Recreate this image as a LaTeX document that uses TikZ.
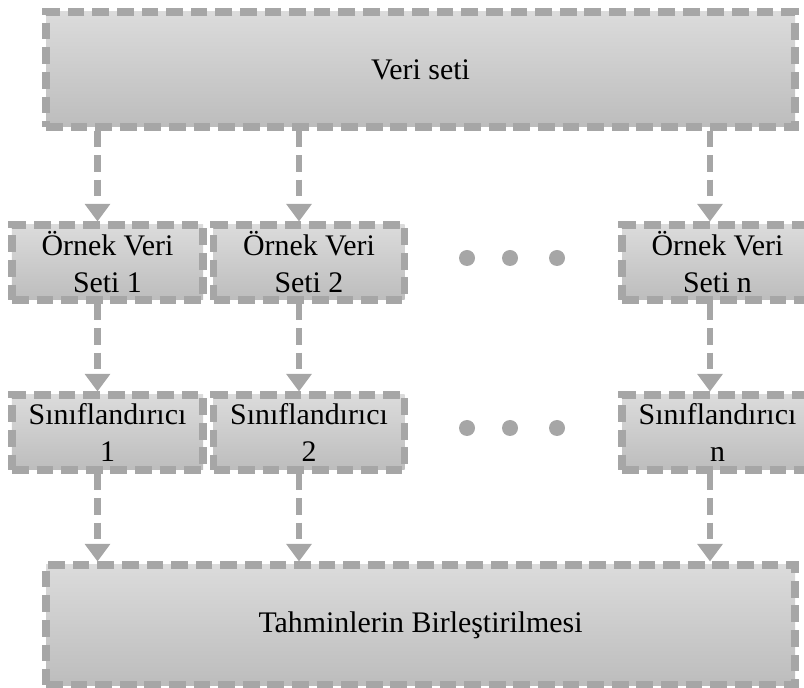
\documentclass[tikz,border=0pt]{standalone}
\usepackage{fontspec}
\setmainfont{Liberation Serif}
\usepackage{tikz}
\usetikzlibrary{arrows.meta,positioning}

\definecolor{lgray}{HTML}{A6A6A6}

\begin{document}
\begin{tikzpicture}[
  font=\fontsize{17}{21}\selectfont,
  blk/.style={draw=lgray, line width=4pt, dash pattern=on 9.5pt off 4.5pt,
    top color=black!14, bottom color=black!26, align=center, inner sep=0pt,
    minimum width=3.82cm, minimum height=1.5cm},
  wide/.style={blk, minimum width=14.98cm, minimum height=2.3cm},
  arr/.style={-{Triangle[width=14pt,length=10pt]}, draw=lgray, line width=3.8pt,
    dash pattern=on 9.5pt off 4.5pt},
  dot/.style={circle, fill=lgray, inner sep=0pt, minimum size=0.32cm}
]
\useasboundingbox (0,0) rectangle (16.08,13.74);

\node[wide] (v) at (8.41,12.35) {Veri seti};

\node[blk] (o1) at (2.15,8.49) {Örnek Veri\\Seti 1};
\node[blk] (o2) at (6.18,8.49) {Örnek Veri\\Seti 2};
\node[blk] (on) at (14.35,8.49) {Örnek Veri\\Seti n};
\draw[arr] ([xshift=-2mm]o1.north |- v.south) -- ([xshift=-2mm]o1.north);
\draw[arr] ([xshift=-2mm]o2.north |- v.south) -- ([xshift=-2mm]o2.north);
\draw[arr] ([xshift=-1.5mm]on.north |- v.south) -- ([xshift=-1.5mm]on.north);

\node[blk] (s1) at (2.15,5.09) {Sınıflandırıcı\\1};
\node[blk] (s2) at (6.18,5.09) {Sınıflandırıcı\\2};
\node[blk] (sn) at (14.35,5.09) {Sınıflandırıcı\\n};
\draw[arr] ([xshift=-2mm]o1.south) -- ([xshift=-2mm]s1.north);
\draw[arr] ([xshift=-2mm]o2.south) -- ([xshift=-2mm]s2.north);
\draw[arr] ([xshift=-1.5mm]on.south) -- ([xshift=-1.5mm]sn.north);

\node[wide, minimum height=2.4cm] (b) at (8.41,1.24) {Tahminlerin Birleştirilmesi};
\draw[arr] ([xshift=-2mm]s1.south) -- ([xshift=-2mm]s1.south |- b.north);
\draw[arr] ([xshift=-2mm]s2.south) -- ([xshift=-2mm]s2.south |- b.north);
\draw[arr] ([xshift=-1.5mm]sn.south) -- ([xshift=-1.5mm]sn.south |- b.north);

% dots between the columns
\node[dot] (d1) at (9.34,8.58) {};
\node[dot] (d2) at (10.20,8.58) {};
\node[dot] (d3) at (11.14,8.58) {};
\node[dot] (e1) at (9.34,5.18) {};
\node[dot] (e2) at (10.20,5.18) {};
\node[dot] (e3) at (11.14,5.18) {};
\end{tikzpicture}
\end{document}
